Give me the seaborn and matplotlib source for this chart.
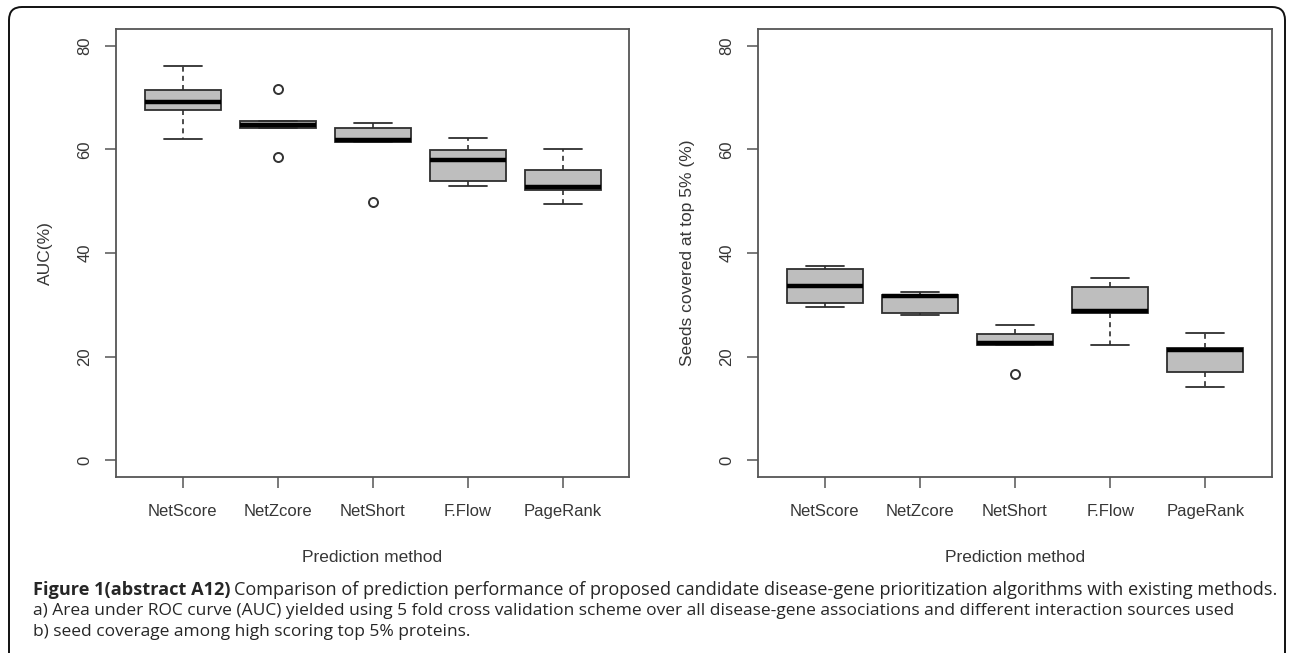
import numpy as np
import pandas as pd
import matplotlib
matplotlib.use("Agg")
import matplotlib.pyplot as plt
import matplotlib.transforms as mtrans
from matplotlib.patches import FancyBboxPatch
import seaborn as sns

# ---------------- data ----------------
methods = ["NetScore", "NetZcore", "NetShort", "F.Flow", "PageRank"]

auc_netscore = [62.0, 67.5, 69.2, 71.5, 76.0]
auc_netzcore = [58.6, 64.1, 64.6, 65.4, 71.7]
auc_netshort = [49.8, 61.4, 61.8, 64.2, 65.1]
auc_fflow = [53.0, 53.9, 58.0, 59.8, 62.1]
auc_pagerank = [49.5, 52.1, 52.8, 56.0, 60.0]

seed_netscore = [29.5, 30.3, 33.6, 37.0, 37.4]
seed_netzcore = [28.1, 28.4, 31.8, 31.9, 32.5]
seed_netshort = [16.7, 22.3, 22.6, 24.3, 26.1]
seed_fflow = [22.3, 28.4, 28.9, 33.4, 35.2]
seed_pagerank = [14.1, 17.1, 21.2, 21.7, 24.6]

yticks = [0, 20, 40, 60, 80]
ylabels = ["AUC(%)", "Seeds covered at top 5% (%)"]
xlabel = "Prediction method"

caption_bold = "Figure 1(abstract A12)"
caption_l1 = ("Comparison of prediction performance of proposed candidate "
              "disease-gene prioritization algorithms with existing methods.")
caption_l2 = ("a) Area under ROC curve (AUC) yielded using 5 fold cross validation "
              "scheme over all disease-gene associations and different interaction sources used")
caption_l3 = "b) seed coverage among high scoring top 5% proteins."


def long_form(groups):
    rows = []
    for m, vals in zip(methods, groups):
        for v in vals:
            rows.append({"method": m, "value": v})
    return pd.DataFrame(rows)


df_auc = long_form([auc_netscore, auc_netzcore, auc_netshort, auc_fflow, auc_pagerank])
df_seed = long_form([seed_netscore, seed_netzcore, seed_netshort, seed_fflow, seed_pagerank])

# ---------------- figure ----------------
sns.set_style("white")
plt.rcParams["font.family"] = ["Liberation Sans", "DejaVu Sans"]

W, H = 1290, 653
fig = plt.figure(figsize=(W / 100, H / 100), dpi=100)
fig.patch.set_facecolor("white")

ax1 = fig.add_axes([116 / W, 1 - 477 / H, 513 / W, 448 / H])
ax2 = fig.add_axes([758 / W, 1 - 477 / H, 514 / W, 448 / H])

frame_col = "#555555"
text_col = "#363636"

for ax, df, yl in [(ax1, df_auc, ylabels[0]), (ax2, df_seed, ylabels[1])]:
    sns.boxplot(
        data=df, x="method", y="value", order=methods, ax=ax,
        color="#BEBEBE", saturation=1, width=0.8,
        linecolor="#2e2e2e", linewidth=1.3, whis=1.5,
        whiskerprops=dict(linestyle=(0, (3, 2.5)), linewidth=1.2),
        medianprops=dict(color="black", linewidth=3.2),
        flierprops=dict(marker="o", markersize=6.5, markerfacecolor="none",
                        markeredgecolor="#333333", markeredgewidth=1.4),
        capwidths=0.4,
    )
    ax.set_xlim(-0.7, 4.7)
    ax.set_ylim(-3.2, 83.2)
    ax.set_yticks(yticks)
    ax.set_yticklabels([str(t) for t in yticks], rotation=90, va="center")
    ax.set_facecolor("white")
    for sp in ax.spines.values():
        sp.set_visible(True)
        sp.set_color(frame_col)
        sp.set_linewidth(1.3)
    ax.tick_params(axis="both", direction="out", length=8, width=1.1,
                   color=frame_col, labelcolor=text_col, labelsize=12)
    ax.tick_params(axis="x", pad=11.5, bottom=True)
    ax.tick_params(axis="y", pad=9, left=True)
    ax.set_xlabel(xlabel, fontsize=12.5, color=text_col)
    ax.xaxis.set_label_coords(0.5, (477 - 557) / 448)
    ax.xaxis.label.set_va("center")
    ax.set_ylabel(yl, fontsize=12.5, color=text_col)
    ax.yaxis.set_label_coords(-0.137, 0.5)
    ax.yaxis.label.set_va("center")
    ax.grid(False)

# outer rounded border (open at the bottom, like the reference crop)
border = FancyBboxPatch((9, -30), 1285 - 9, (H - 7) + 30,
                        boxstyle="round,pad=0,rounding_size=13",
                        transform=mtrans.IdentityTransform(),
                        facecolor="none", edgecolor="#111111", linewidth=1.4)
fig.add_artist(border)

# ---------------- caption ----------------
cap_font = ["Open Sans", "DejaVu Sans"]
cap_col = "#262626"
renderer = fig.canvas.get_renderer()


def measure(s, **kw):
    t = fig.text(0, 0, s, fontsize=10, family=cap_font, **kw)
    w = t.get_window_extent(renderer).width
    t.remove()
    return w


x_left = 33
cap_size = 10 * (1236 - x_left) / measure(caption_l2)
# first line (bold lead-in + text) fitted to its own span in the reference
w1 = measure(caption_bold, fontweight="bold") + 3 + measure(caption_l1)
size1 = 10 * (1278 - x_left) / w1

x0 = x_left / W
t_bold = fig.text(x0, 1 - 590 / H, caption_bold, fontsize=size1, family=cap_font,
                  fontweight="bold", color=cap_col, va="center")
wb = t_bold.get_window_extent(renderer).width
fig.text(x0 + (wb + 0.3 * size1) / W, 1 - 590 / H, caption_l1, fontsize=size1,
         family=cap_font, color=cap_col, va="center")
fig.text(x0, 1 - 611 / H, caption_l2, fontsize=cap_size, family=cap_font,
         color=cap_col, va="center")
fig.text(x0, 1 - 632 / H, caption_l3, fontsize=cap_size, family=cap_font,
         color=cap_col, va="center")

fig.savefig("out.png", dpi=100, facecolor="white")
